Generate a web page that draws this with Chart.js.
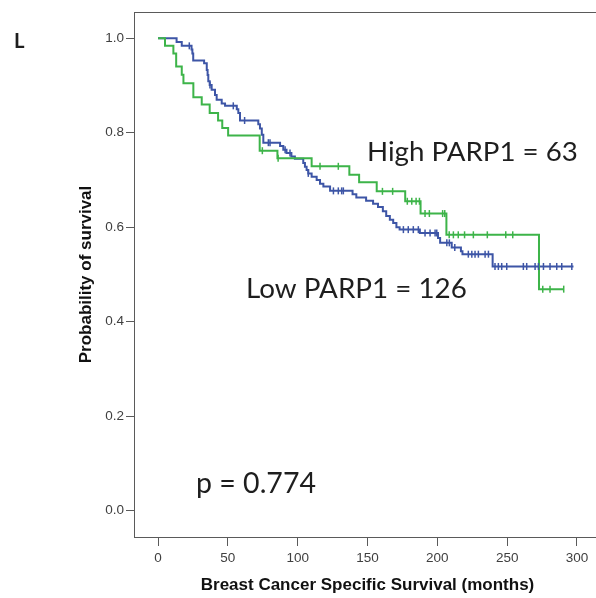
<!DOCTYPE html>
<html>
<head>
<meta charset="utf-8">
<script src="https://cdn.jsdelivr.net/npm/chart.js@4/dist/chart.umd.min.js"></script>
<style>
  html, body { margin: 0; padding: 0; background: #ffffff; overflow: hidden; }
  #wrap { width: 610px; height: 598px; }
</style>
</head>
<body>
<div id="wrap"><canvas id="c" width="610" height="598"></canvas></div>
<script>
// ---- Data ----
const xTicks = [0, 50, 100, 150, 200, 250, 300];
const yTicks = [0.0, 0.2, 0.4, 0.6, 0.8, 1.0];

// Low PARP1 (n = 126) – blue step curve: event times (months) and survival after each step
const lowTimes = [0, 13.3, 17.0, 24.0, 24.6, 25.2, 33.0, 34.9, 35.5, 36.0, 37.0, 38.4, 40.8, 42.0, 45.6, 48.0,
  56.4, 57.5, 58.7, 71.8, 73.0, 74.3, 75.4, 87.4, 89.7, 92.0, 95.5, 98.0, 104.0, 105.2, 106.4, 107.6, 110.0,
  113.6, 116.0, 118.4, 123.2, 139.3, 142.0, 149.0, 154.0, 157.5, 161.0, 163.4, 166.0, 168.4, 170.7, 173.0,
  187.5, 200.5, 202.0, 210.3, 216.9, 218.0, 239.6, 297.5];
const lowSurv = [1.0, 0.992, 0.984, 0.976, 0.968, 0.953, 0.947, 0.933, 0.922, 0.909, 0.901, 0.891, 0.880, 0.870, 0.862, 0.857,
  0.850, 0.842, 0.826, 0.818, 0.809, 0.796, 0.779, 0.772, 0.764, 0.757, 0.750, 0.745, 0.736, 0.728, 0.721, 0.714, 0.707,
  0.700, 0.692, 0.686, 0.677, 0.670, 0.663, 0.656, 0.650, 0.643, 0.634, 0.624, 0.616, 0.609, 0.600, 0.595,
  0.588, 0.577, 0.567, 0.557, 0.549, 0.543, 0.517, 0.517];
const lowCensored = [22.4, 37.2, 53.9, 62.0, 79.0, 80.2, 91.0, 94.5, 107.6, 125.6, 129.1, 131.5, 132.7,
  175.7, 179.2, 182.8, 186.4, 191.2, 194.8, 198.4, 199.6, 206.8, 208.6, 212.5,
  222.2, 224.7, 227.0, 229.4, 234.2, 236.6,
  241.3, 243.7, 246.1, 249.7, 261.6, 264.0, 270.0, 272.4, 276.0, 280.7, 285.5, 289.1, 296.3];

// High PARP1 (n = 63) – green step curve
const highTimes = [0, 5.0, 11.0, 13.0, 17.0, 18.2, 25.3, 31.3, 37.0, 43.0, 46.0, 50.2, 72.8, 85.5, 110.0,
  137.0, 144.0, 156.6, 177.0, 188.0, 206.5, 272.8, 290.5];
const highSurv = [1.0, 0.984, 0.968, 0.940, 0.923, 0.905, 0.875, 0.860, 0.842, 0.826, 0.810, 0.794, 0.762, 0.746, 0.729,
  0.711, 0.695, 0.676, 0.655, 0.629, 0.584, 0.469, 0.469];
const highCensored = [74.7, 86.0, 116.0, 129.1, 160.7, 168.0, 178.5, 181.7, 184.8, 187.2, 191.2, 194.3, 203.8, 205.3,
  208.5, 211.5, 215.0, 219.5, 225.8, 235.8, 249.0, 254.0, 275.5, 280.7, 290.5];

const labelHigh = 'High PARP1 = 63';
const labelLow = 'Low PARP1 = 126';
const pLabel = 'p = 0.774';
const panelLabel = 'L';
const xTitle = 'Breast Cancer Specific Survival (months)';
const yTitle = 'Probability of survival';

// ---- helpers ----
function stepPoints(times, surv) { return times.map((t, i) => ({ x: t, y: surv[i] })); }
function levelAt(times, surv, t) {
  let v = surv[0];
  for (let i = 0; i < times.length; i++) { if (times[i] <= t) v = surv[i]; }
  return v;
}
function censorPoints(cens, times, surv) { return cens.map(t => ({ x: t, y: levelAt(times, surv, t) })); }

const BLUE = '#3d55a6';
const GREEN = '#3db449';
const AXIS = '#5a5a5a';

const framePlugin = {
  id: 'frame',
  beforeDatasetsDraw(chart) {
    const { ctx, chartArea: a } = chart;
    ctx.save();
    ctx.strokeStyle = AXIS;
    ctx.lineWidth = 1;
    ctx.beginPath();
    ctx.moveTo(a.left, a.top + 0.5);
    ctx.lineTo(a.right, a.top + 0.5);
    ctx.lineTo(a.right - 0.5, a.bottom);
    ctx.stroke();
    ctx.restore();
  }
};

function fitText(ctx, text, left, baseline, width, weight, family, color) {
  let s = 20;
  ctx.font = `${weight} ${s}px ${family}`;
  const w = ctx.measureText(text).width;
  s = s * width / w;
  ctx.font = `${weight} ${s}px ${family}`;
  ctx.fillStyle = color;
  ctx.textAlign = 'left';
  ctx.textBaseline = 'alphabetic';
  ctx.fillText(text, left, baseline);
}

const textPlugin = {
  id: 'texts',
  afterDraw(chart) {
    const ctx = chart.ctx;
    ctx.save();
    fitText(ctx, labelHigh, 367, 161, 211, 'normal', 'Lato, "Open Sans", sans-serif', '#1e1e1e');
    fitText(ctx, labelLow, 246, 298, 221, 'normal', 'Lato, "Open Sans", sans-serif', '#1e1e1e');
    fitText(ctx, pLabel, 196, 493, 120, 'normal', 'Lato, "Open Sans", sans-serif', '#1e1e1e');
    fitText(ctx, panelLabel, 14, 48, 10.5, 'bold', 'Lato, "Open Sans", sans-serif', '#1e1e1e');
    ctx.restore();
  }
};

new Chart(document.getElementById('c'), {
  type: 'line',
  data: {
    datasets: [
      { label: 'High censored', data: censorPoints(highCensored, highTimes, highSurv), showLine: false,
        pointStyle: 'line', rotation: 90, pointRadius: 3.5, pointHoverRadius: 3.5,
        borderColor: GREEN, backgroundColor: GREEN, pointBorderWidth: 1.5 },
      { label: 'Low censored', data: censorPoints(lowCensored, lowTimes, lowSurv), showLine: false,
        pointStyle: 'line', rotation: 90, pointRadius: 3.5, pointHoverRadius: 3.5,
        borderColor: BLUE, backgroundColor: BLUE, pointBorderWidth: 1.5 },
      { label: 'High PARP1', data: stepPoints(highTimes, highSurv), stepped: 'before',
        borderColor: GREEN, borderWidth: 2, pointRadius: 0, fill: false },
      { label: 'Low PARP1', data: stepPoints(lowTimes, lowSurv), stepped: 'before',
        borderColor: BLUE, borderWidth: 2, pointRadius: 0, fill: false }
    ]
  },
  options: {
    responsive: false,
    animation: false,
    devicePixelRatio: 1,
    layout: { padding: { left: 0, right: 9, top: 12, bottom: 0 } },
    plugins: { legend: { display: false }, tooltip: { enabled: false } },
    scales: {
      x: {
        type: 'linear', min: -17.2, max: 317.2,
        afterBuildTicks: s => { s.ticks = xTicks.map(v => ({ value: v })); },
        afterFit: s => { s.height = 61; },
        grid: { drawOnChartArea: false, drawTicks: true, tickLength: 9, color: AXIS },
        border: { display: true, color: AXIS, width: 1 },
        ticks: { color: '#404040', padding: 4, font: { family: '"Liberation Sans", Arial, sans-serif', size: 13.5 },
          callback: v => String(v), maxRotation: 0 },
        title: { display: true, text: xTitle, color: '#111',
          font: { family: '"Liberation Sans", Arial, sans-serif', size: 17, weight: 'bold' },
          padding: { top: 0, bottom: 2 } }
      },
      y: {
        type: 'linear', min: -0.0556, max: 1.0556,
        afterBuildTicks: s => { s.ticks = yTicks.map(v => ({ value: v })); },
        afterFit: s => { s.width = 134; },
        grid: { drawOnChartArea: false, drawTicks: true, tickLength: 8, color: AXIS },
        border: { display: true, color: AXIS, width: 1 },
        ticks: { color: '#404040', padding: 2, font: { family: '"Liberation Sans", Arial, sans-serif', size: 13.5 },
          callback: v => Number(v).toFixed(1) },
        title: { display: true, text: yTitle, color: '#111',
          font: { family: '"Liberation Sans", Arial, sans-serif', size: 17, weight: 'bold' },
          padding: { top: 76, bottom: 0 } }
      }
    }
  },
  plugins: [framePlugin, textPlugin]
});
</script>
</body>
</html>
